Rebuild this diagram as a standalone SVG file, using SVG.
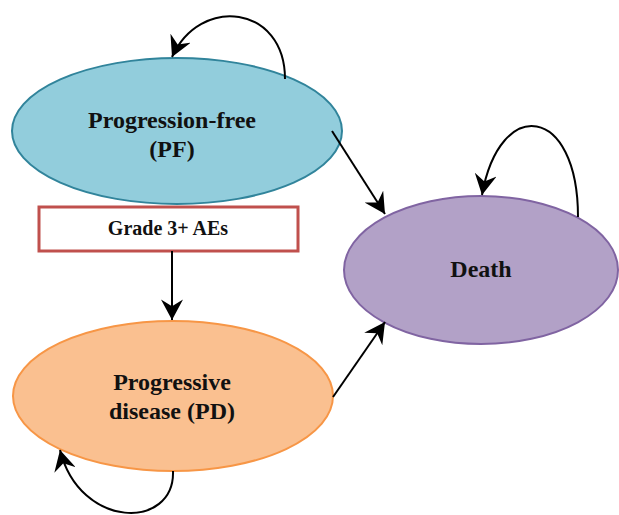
<svg xmlns="http://www.w3.org/2000/svg" width="619" height="515" viewBox="0 0 619 515">
<style>
.lbl{font-family:"Liberation Serif","Times New Roman",serif;font-weight:bold;fill:#111;text-anchor:middle}
.c{fill:none;stroke:#000;stroke-width:2}
</style>
<defs>
<marker id="ah" markerUnits="userSpaceOnUse" markerWidth="22" markerHeight="22" viewBox="0 0 16 16" refX="15" refY="8" orient="auto">
<path d="M0,0 L15,8 L0,16 L5,8 z" fill="#000"/>
</marker>
</defs>
<rect width="619" height="515" fill="#fff"/>
<g id="pf">
<ellipse cx="177" cy="131" rx="165" ry="73" fill="#92CDDC" stroke="#31849B" stroke-width="2"/>
<text class="lbl" x="172" y="128" font-size="24">Progression-free</text>
<text class="lbl" x="172" y="157" font-size="24">(PF)</text>
</g>
<g id="death">
<ellipse cx="481" cy="270" rx="137" ry="74" fill="#B2A1C7" stroke="#8064A2" stroke-width="2"/>
<text class="lbl" x="481" y="277" font-size="24">Death</text>
</g>
<g id="pd">
<ellipse cx="173" cy="396" rx="160" ry="75" fill="#FAC090" stroke="#F79646" stroke-width="2"/>
<text class="lbl" x="172" y="390" font-size="24">Progressive</text>
<text class="lbl" x="172" y="419" font-size="24">disease (PD)</text>
</g>
<g id="aes">
<rect x="39" y="207" width="259" height="44" fill="#fff" stroke="#C0504D" stroke-width="3"/>
<text class="lbl" x="168" y="235" font-size="20">Grade 3+ AEs</text>
</g>
<g id="connectors">
<path class="c" d="M285,79 C285,5 200,-5 172,57" marker-end="url(#ah)"/>
<path class="c" d="M578,217 C578,105 500,95 482,195" marker-end="url(#ah)"/>
<path class="c" d="M173,471 C175,530 80,530 60,450" marker-end="url(#ah)"/>
<path class="c" d="M332,131 L385,214" marker-end="url(#ah)"/>
<path class="c" d="M333,397 L385,322" marker-end="url(#ah)"/>
<path class="c" d="M172,251 L172,320" marker-end="url(#ah)"/>
</g>
</svg>
